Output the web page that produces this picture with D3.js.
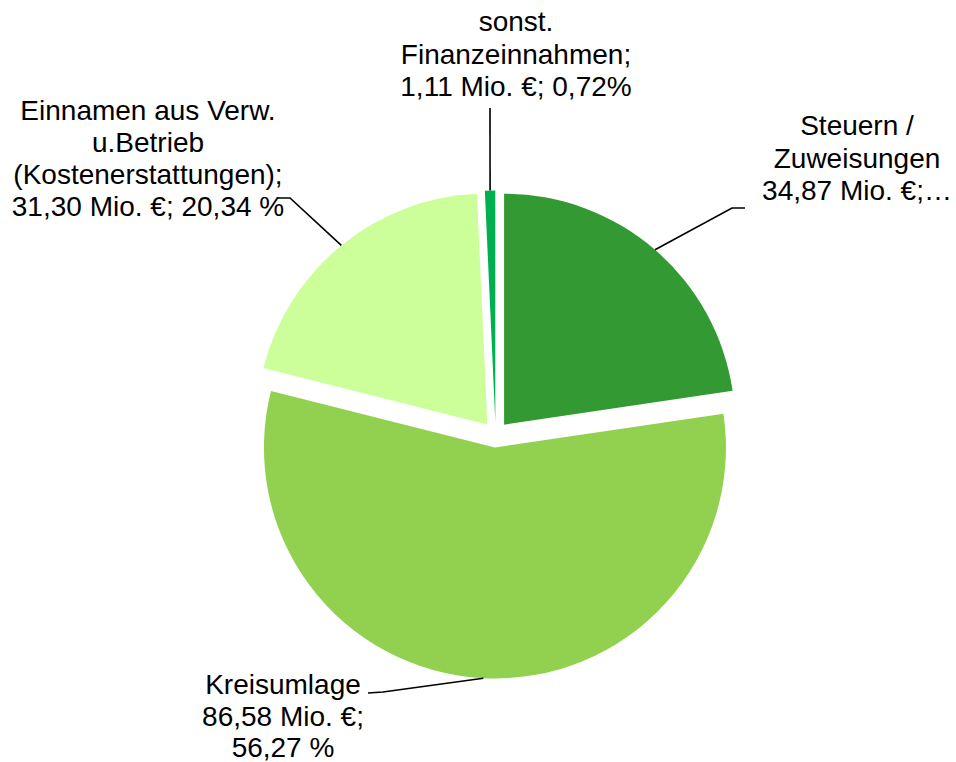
<!DOCTYPE html>
<html>
<head>
<meta charset="utf-8">
<script src="https://cdn.jsdelivr.net/npm/d3@7/dist/d3.min.js"></script>
<style>
  body { margin: 0; background: #fff; }
  svg text { font-family: "Liberation Sans", Arial, sans-serif; font-size: 28px; fill: #000; }
</style>
</head>
<body>
<div id="chart"></div>
<script>
// Einnahmen, Mio. EUR
var categories = ["Steuern / Zuweisungen", "Kreisumlage",
                  "Einnahmen aus Verw. u.Betrieb (Kostenerstattungen)", "sonst. Finanzeinnahmen"];
var values = [34.87, 86.58, 31.30, 1.11];
var labelText = [
  ["Steuern /", "Zuweisungen", "34,87 Mio. \u20AC;\u2026"],
  ["Kreisumlage", "86,58 Mio. \u20AC;", "56,27 %"],
  ["Einnamen aus Verw.", "u.Betrieb", "(Kostenerstattungen);", "31,30 Mio. \u20AC; 20,34 %"],
  ["sonst.", "Finanzeinnahmen;", "1,11 Mio. \u20AC; 0,72%"]
];
var colors = ["#339933", "#92d050", "#ccff99", "#00b050"];

var width = 956, height = 762,
    cx = 495.6, cy = 434.5, radius = 231, explode = 13;

// label anchor (centre x, first baseline, line step) and leader elbow points
var labelPos = [
  {x: 857, y: 135, step: 32.5, leader: [[732, 208], [745, 208]]},
  {x: 283, y: 694, step: 31.5, leader: [[383, 692], [368, 693]]},
  {x: 148, y: 120, step: 32,   leader: [[290, 198], [278, 198]]},
  {x: 516, y: 31,  step: 32.5, leader: [[490, 108]]}
];

var svg = d3.select("#chart").append("svg")
    .attr("width", width)
    .attr("height", height);

var pie = d3.pie().sort(null).value(function(d) { return d; });
var arcs = pie(values);
var arc = d3.arc().innerRadius(0).outerRadius(radius);

function mid(a) { return (a.startAngle + a.endAngle) / 2; }

var slices = svg.append("g")
    .attr("transform", "translate(" + cx + "," + cy + ")");

slices.selectAll("path")
    .data(arcs)
  .enter().append("path")
    .attr("d", arc)
    .attr("fill", function(d, i) { return colors[i]; })
    .attr("transform", function(d) {
      var m = mid(d);
      return "translate(" + (explode * Math.sin(m)) + "," + (-explode * Math.cos(m)) + ")";
    });

// leader lines
svg.append("g").selectAll("polyline")
    .data(arcs)
  .enter().append("polyline")
    .attr("fill", "none")
    .attr("stroke", "#000")
    .attr("stroke-width", 1.6)
    .attr("points", function(d, i) {
      var m = mid(d), rr = radius + explode;
      var pts = [[cx + rr * Math.sin(m), cy - rr * Math.cos(m)]].concat(labelPos[i].leader);
      return pts.map(function(p) { return p.join(","); }).join(" ");
    });

// labels
var labels = svg.append("g").selectAll("text")
    .data(arcs)
  .enter().append("text")
    .attr("text-anchor", "middle")
    .attr("x", function(d, i) { return labelPos[i].x; })
    .attr("y", function(d, i) { return labelPos[i].y; });

labels.each(function(d, i) {
  var t = d3.select(this);
  labelText[i].forEach(function(line, j) {
    t.append("tspan")
      .attr("x", labelPos[i].x)
      .attr("y", labelPos[i].y + j * labelPos[i].step)
      .text(line);
  });
});
</script>
</body>
</html>
